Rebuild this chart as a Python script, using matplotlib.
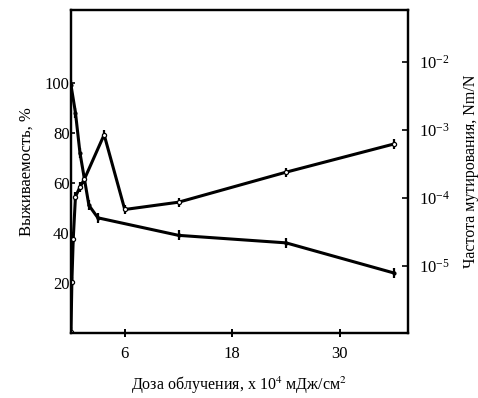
import matplotlib
matplotlib.use('Agg')
import matplotlib.pyplot as plt
from matplotlib.ticker import LogLocator, NullLocator

plt.rcParams['font.family'] = ['Liberation Serif', 'DejaVu Serif']
plt.rcParams['mathtext.fontset'] = 'stix'

# survival, %
dose_surv = [0, 0.5, 1, 2, 3, 12, 24, 36]
survival = [99, 88, 72, 51, 46, 39, 36, 24]
surv_err = [2, 2, 2, 2, 2, 2, 2, 2]

# mutation frequency, Nm/N
dose_mut = [0, 0.1, 0.25, 0.5, 1.0, 1.5, 3.7, 6, 12, 24, 36]
mutation = [1.1e-6, 5.9e-6, 2.5e-5, 1.05e-4, 1.45e-4, 1.9e-4, 8.5e-4, 6.8e-5, 8.7e-5, 2.4e-4, 6.2e-4]
mut_err = 0.17  # relative half-width on log scale

fig = plt.figure(figsize=(4.78, 3.98), dpi=100)
ax = fig.add_axes([0.1485, 0.1633, 0.705, 0.8116])
ax2 = ax.twinx()

ax.errorbar(dose_surv, survival, yerr=surv_err, color='black', lw=2.2,
            elinewidth=1.6, capsize=0, marker='o', ms=2, mfc='black')
ax.set_xlim(0, 37.6)
ax.set_ylim(0, 129)
ax.set_xticks([6, 18, 30])
ax.set_yticks([20, 40, 60, 80, 100])

lo = [m - m / (1 + mut_err) for m in mutation]
hi = [m * mut_err for m in mutation]
ax2.errorbar(dose_mut, mutation, yerr=[lo, hi], color='black', lw=2.2,
             elinewidth=1.6, capsize=0, marker='o', ms=3, mfc='white', mew=0.9)
ax2.set_yscale('log')
ax2.set_ylim(10 ** -5.98, 10 ** -1.24)
ax2.yaxis.set_major_locator(LogLocator(base=10, numticks=10))
ax2.yaxis.set_minor_locator(NullLocator())

for a in (ax, ax2):
    for s in a.spines.values():
        s.set_linewidth(1.6)
ax.tick_params(axis='x', direction='inout', length=6, width=1.4, labelsize=12, pad=6)
ax.tick_params(axis='y', direction='in', length=3, width=1.2, labelsize=12, pad=1)
ax2.tick_params(axis='y', direction='in', length=4, width=1.2, labelsize=12, pad=8)

ax.set_xlabel(r'Доза облучения, x 10$^4$ мДж/см$^2$', fontsize=11.5, labelpad=9)
ax.set_ylabel('Выживаемость, %', fontsize=12, labelpad=7)
ax2.set_ylabel('Частота мутирования, Nm/N', fontsize=11.5, rotation=90, labelpad=9)

fig.savefig('out.png', dpi=100)
